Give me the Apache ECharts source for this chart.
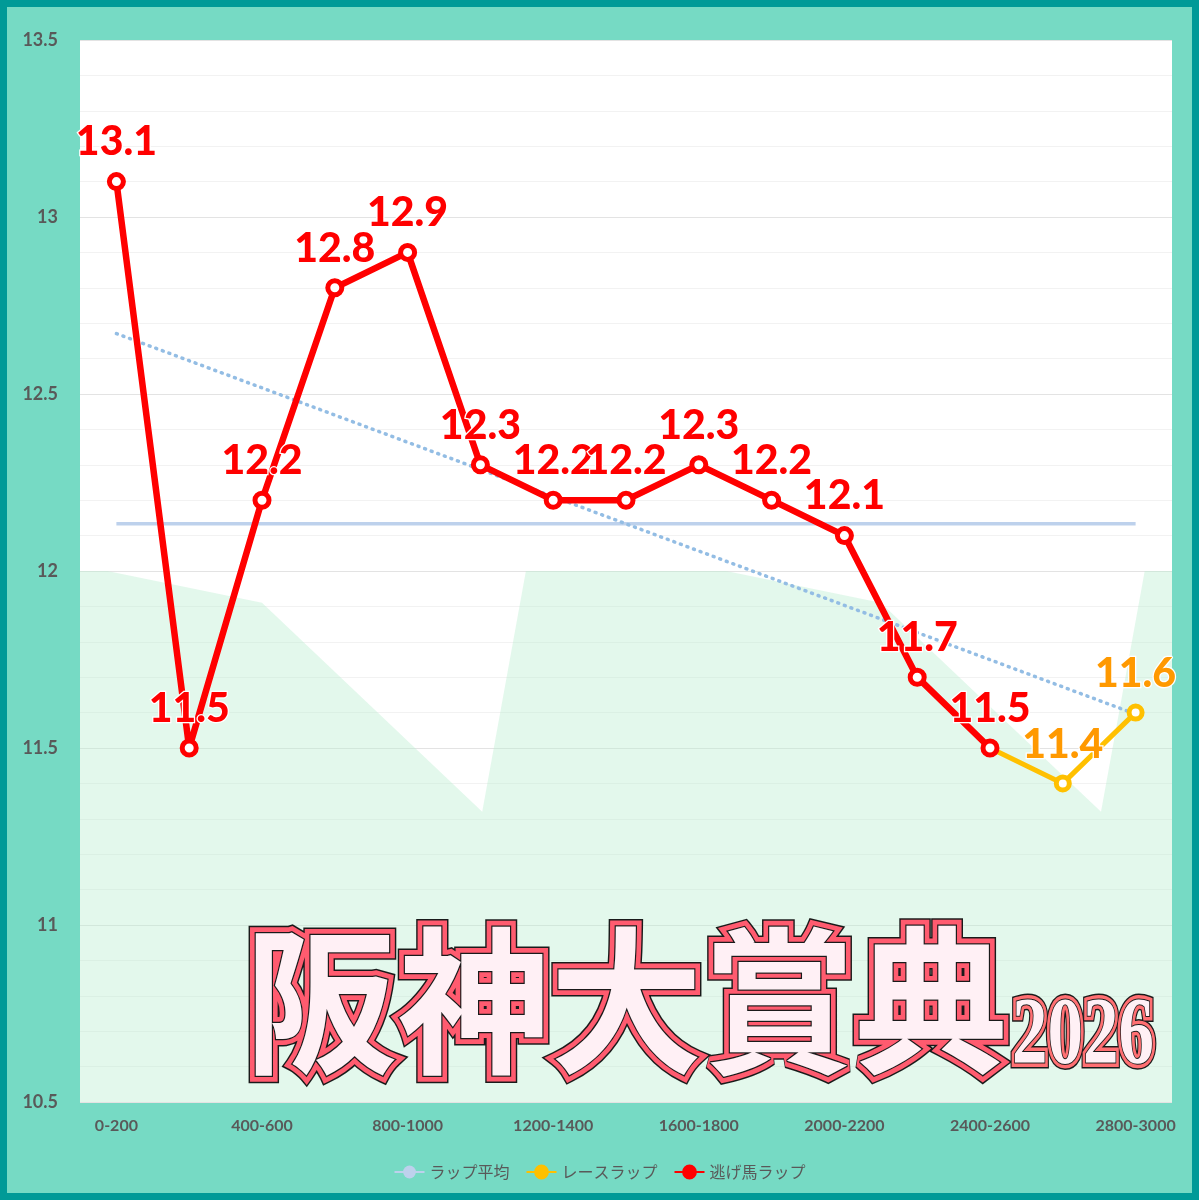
<!DOCTYPE html>
<html>
<head>
<meta charset="utf-8">
<script src="https://cdn.jsdelivr.net/npm/echarts@6/dist/echarts.min.js"></script>
<style>
html,body{margin:0;padding:0;background:#76dac4;}
#frame{position:absolute;left:0;top:0;width:1199px;height:1200px;box-sizing:border-box;border:7px solid #009a97;background:#76dac4;}
#chart{position:absolute;left:0;top:0;width:1199px;height:1200px;}
</style>
</head>
<body>
<div id="frame"></div>
<div id="chart"></div>
<script>
// ---- data ----
const categories = ['0-200','200-400','400-600','600-800','800-1000','1000-1200','1200-1400','1400-1600','1600-1800','1800-2000','2000-2200','2200-2400','2400-2600','2600-2800','2800-3000'];
const raceLap = [13.1, 11.5, 12.2, 12.8, 12.9, 12.3, 12.2, 12.2, 12.3, 12.2, 12.1, 11.7, 11.5, 11.4, 11.6];
const nigeLap = [13.1, 11.5, 12.2, 12.8, 12.9, 12.3, 12.2, 12.2, 12.3, 12.2, 12.1, 11.7, 11.5];
// background course profile (distance in m, level on the lap axis)
const courseDist  = [0, 75, 500, 1105, 1225, 1775, 2200, 2805, 2925, 3000];
const courseLevel = [12.0, 12.0, 11.91, 11.32, 12.0, 12.0, 11.91, 11.32, 12.0, 12.0];
const seriesNames = ['ラップ平均', 'レースラップ', '逃げ馬ラップ'];
const titleText = '阪神大賞典';
const yearText = '2026';

// ---- derived ----
const n = raceLap.length;
const mean = raceLap.reduce((a, b) => a + b, 0) / n;
const xm = (n - 1) / 2;
let sxy = 0, sxx = 0;
raceLap.forEach((v, i) => { sxy += (i - xm) * (v - mean); sxx += (i - xm) * (i - xm); });
const slope = sxy / sxx;
const avgData = raceLap.map(() => +mean.toFixed(4));
const trendData = raceLap.map((v, i) => +(mean + slope * (i - xm)).toFixed(4));
const courseData = courseDist.map((d, i) => [d, courseLevel[i]]);

const labelFont = { fontFamily: 'Lato', fontWeight: 900, fontSize: 41, lineHeight: 40, textBorderColor: '#fff', textBorderWidth: 2.5 };

const TX = 245, TY = 922, TFONT = 'bold 158px "Noto Sans CJK JP"', TSX = 0.965;
const YX = 1012, YY = 990, YFONT = 'bold 96px "Liberation Serif"', YSX = 0.74;

const chart = echarts.init(document.getElementById('chart'), null, { renderer: 'canvas' });
chart.setOption({
  backgroundColor: 'transparent',
  animation: false,
  grid: { left: 80, right: 27, top: 40, bottom: 98, show: true, backgroundColor: '#ffffff', borderWidth: 0 },
  legend: {
    data: [
      { name: seriesNames[0] },
      { name: seriesNames[1], itemStyle: { color: '#ffc000', borderColor: '#ffc000' } },
      { name: seriesNames[2], itemStyle: { color: '#ff0000', borderColor: '#ff0000' } }
    ],
    bottom: 15,
    left: 'center',
    itemWidth: 30,
    itemHeight: 16,
    itemGap: 16,
    textStyle: { fontFamily: 'Noto Sans CJK JP', fontSize: 16, color: '#595959' }
  },
  xAxis: [
    {
      type: 'category',
      data: categories,
      boundaryGap: true,
      axisLine: { show: false },
      axisTick: { show: false },
      axisLabel: { interval: 1, margin: 16, color: '#595959', fontFamily: 'Lato', fontWeight: 'bold', fontSize: 16 }
    },
    { type: 'value', min: 0, max: 3000, show: false }
  ],
  yAxis: {
    type: 'value',
    min: 10.5,
    max: 13.5,
    interval: 0.5,
    axisLine: { show: false },
    axisTick: { show: false },
    axisLabel: { margin: 22, color: '#595959', fontFamily: 'Lato', fontWeight: 'bold', fontSize: 18 },
    splitLine: { show: true, lineStyle: { color: '#e3e3e3', width: 1 } },
    minorTick: { show: false, splitNumber: 5 },
    minorSplitLine: { show: true, lineStyle: { color: '#f2f2f2', width: 1 } }
  },
  series: [
    {
      name: 'course',
      type: 'line',
      xAxisIndex: 1,
      data: courseData,
      symbol: 'none',
      silent: true,
      lineStyle: { width: 0 },
      areaStyle: { color: 'rgba(182,238,205,0.55)', origin: 'start' },
      z: 1
    },
    {
      name: seriesNames[0],
      type: 'line',
      data: avgData,
      symbol: 'none',
      color: '#bdd1ec',
      lineStyle: { width: 3.5, color: '#bdd1ec' },
      z: 2
    },
    {
      name: 'trend',
      type: 'line',
      data: trendData,
      symbol: 'none',
      lineStyle: { width: 3.5, color: '#93bde4', type: [1, 6], cap: 'round' },
      z: 3
    },
    {
      name: seriesNames[1],
      type: 'line',
      data: raceLap.map((v, i) => i < nigeLap.length ? { value: v, label: { show: false } } : v),
      symbol: 'circle',
      symbolSize: 13,
      color: '#ffc000',
      lineStyle: { width: 5, color: '#ffc000' },
      itemStyle: { color: '#ffffff', borderColor: '#ffc000', borderWidth: 5 },
      label: Object.assign({ show: true, position: 'top', distance: 10, color: '#ff9900' }, labelFont),
      z: 4
    },
    {
      name: seriesNames[2],
      type: 'line',
      data: nigeLap,
      symbol: 'circle',
      symbolSize: 14,
      color: '#ff0000',
      lineStyle: { width: 6.5, color: '#ff0000' },
      itemStyle: { color: '#ffffff', borderColor: '#ff0000', borderWidth: 5 },
      label: Object.assign({ show: true, position: 'top', distance: 10, color: '#ff0000' }, labelFont),
      z: 5
    }
  ],
  graphic: [
    { type: 'text', x: TX, y: TY, scaleX: TSX, z: 50, silent: true,
      style: { text: titleText, font: TFONT, fill: '#1a1a1a', stroke: '#1a1a1a', lineWidth: 15, textVerticalAlign: 'top' } },
    { type: 'text', x: TX, y: TY, scaleX: TSX, z: 51, silent: true,
      style: { text: titleText, font: TFONT, fill: '#ff5b6f', stroke: '#ff5b6f', lineWidth: 12, textVerticalAlign: 'top' } },
    { type: 'text', x: TX, y: TY, scaleX: TSX, z: 52, silent: true,
      style: { text: titleText, font: TFONT, fill: '#fff0f5', stroke: '#1a1a1a', lineWidth: 2.5, textVerticalAlign: 'top' } },
    { type: 'text', x: YX, y: YY, scaleX: YSX, z: 50, silent: true,
      style: { text: yearText, font: YFONT, fill: '#1a1a1a', stroke: '#1a1a1a', lineWidth: 12, textVerticalAlign: 'top' } },
    { type: 'text', x: YX, y: YY, scaleX: YSX, z: 51, silent: true,
      style: { text: yearText, font: YFONT, fill: '#ff6f72', stroke: '#ff6f72', lineWidth: 9, textVerticalAlign: 'top' } },
    { type: 'text', x: YX, y: YY, scaleX: YSX, z: 52, silent: true,
      style: { text: yearText, font: YFONT, fill: '#fff0f5', stroke: '#1a1a1a', lineWidth: 2, textVerticalAlign: 'top' } }
  ]
});
</script>
</body>
</html>
